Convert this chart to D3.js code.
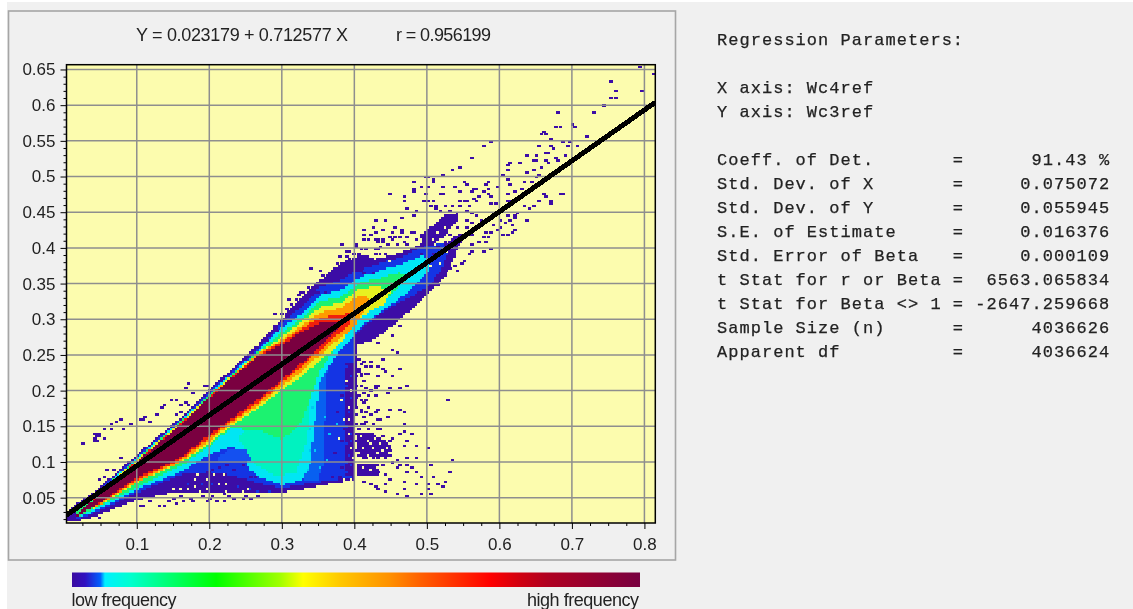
<!DOCTYPE html>
<html>
<head>
<meta charset="utf-8">
<script src="https://cdn.jsdelivr.net/npm/d3@7"></script>
<style>
html, body { margin: 0; padding: 0; background: #fff; overflow: hidden; }
svg { filter: blur(0.4px); }
.tick text { font-family: "Liberation Sans", Arial, sans-serif; font-size: 17px; fill: #222; }
.stat { font-family: "Liberation Mono", monospace; font-size: 17px; letter-spacing: 1.03px; fill: #222; stroke: #222; stroke-width: 0.25px; white-space: pre; }
.lab { font-family: "Liberation Sans", Arial, sans-serif; font-size: 18px; fill: #222; }
</style>
</head>
<body>
<div id="chart"></div>
<script>
var xTicks = [0.1, 0.2, 0.3, 0.4, 0.5, 0.6, 0.7, 0.8];
var xMinor = [0.025, 0.05, 0.075, 0.125, 0.15, 0.175, 0.225, 0.25, 0.275, 0.325, 0.35, 0.375, 0.425, 0.45, 0.475, 0.525, 0.55, 0.575, 0.625, 0.65, 0.675, 0.725, 0.75, 0.775];
var yTicks = [0.05, 0.1, 0.15, 0.2, 0.25, 0.3, 0.35, 0.4, 0.45, 0.5, 0.55, 0.6, 0.65];
var yMinor = [0.02, 0.03, 0.04, 0.06, 0.07, 0.08, 0.09, 0.11, 0.12, 0.13, 0.14, 0.16, 0.17, 0.18, 0.19, 0.21, 0.22, 0.23, 0.24, 0.26, 0.27, 0.28, 0.29, 0.31, 0.32, 0.33, 0.34, 0.36, 0.37, 0.38, 0.39, 0.41, 0.42, 0.43, 0.44, 0.46, 0.47, 0.48, 0.49, 0.51, 0.52, 0.53, 0.54, 0.56, 0.57, 0.58, 0.59, 0.61, 0.62, 0.63, 0.64];

var titleText = "Y = 0.023179 + 0.712577 X";
var rText = "r = 0.956199";
var lineX = [0.0031, 0.815];
var lineY = [0.0254, 0.6039];

var statHead = ["Regression Parameters:", "", "X axis: Wc4ref", "Y axis: Wc3ref", ""];
var statLabels = ["Coeff. of Det.", "Std. Dev. of X", "Std. Dev. of Y", "S.E. of Estimate", "Std. Error of Beta", "t Stat for r or Beta", "t Stat for Beta <> 1", "Sample Size (n)", "Apparent df"];
var statValues = ["91.43 %", "0.075072", "0.055945", "0.016376", "0.000109", "6563.065834", "-2647.259668", "4036626", "4036624"];

// frequency colour ramp
var rampAt = [0, 0.023, 0.05, 0.058, 0.102, 0.254, 0.366, 0.407, 0.472, 0.56, 0.613, 0.736, 0.789, 0.836, 1];
var rampColors = ["#3a0aa0", "#3010c0", "#0060ff", "#00f0ff", "#00ffd0", "#00ff00", "#a0ff00", "#ffff00", "#ffc800", "#ff9000", "#ff6000", "#ff0000", "#d00010", "#b00020", "#780040"];

// density outlines, [x, y] in axis units, outer level first
var purpleTop = [[.004,.029],[.015,.040],[.040,.057],[.100,.110],[.160,.162],[.200,.200],[.229,.229],[.270,.267],[.300,.300],[.325,.330],[.353,.355],[.381,.379],[.399,.386],[.408,.390],[.436,.386],[.463,.393],[.491,.405],[.519,.402],[.546,.420]];
var purpleBottom = [[.004,.016],[.015,.016],[.040,.023],[.100,.047],[.146,.056],[.200,.057],[.270,.056],[.300,.058],[.325,.061],[.353,.067],[.381,.072],[.400,.075],[.404,.264],[.426,.271],[.454,.292],[.501,.334],[.528,.365],[.546,.405]];
var blueTop = [[.015,.038],[.040,.054],[.100,.107],[.160,.159],[.200,.197],[.229,.225],[.270,.261],[.300,.295],[.325,.316],[.353,.345],[.381,.355],[.399,.365],[.408,.369],[.436,.379],[.463,.386],[.491,.400],[.519,.406],[.532,.400]];
var blueBottom = [[.015,.019],[.040,.028],[.100,.057],[.160,.082],[.200,.086],[.229,.082],[.270,.070],[.300,.064],[.325,.068],[.353,.072],[.381,.076],[.397,.079],[.401,.278],[.408,.285],[.436,.309],[.463,.324],[.501,.345],[.519,.369],[.532,.400]];
var skyFan = [[.345,.270],[.365,.250],[.360,.200],[.358,.100],[.350,.075],[.330,.072],[.335,.100],[.340,.200]];
var cyanTop = [[.015,.037],[.040,.052],[.100,.106],[.160,.157],[.200,.195],[.229,.222],[.270,.258],[.300,.288],[.325,.306],[.353,.334],[.381,.341],[.408,.359],[.436,.369],[.463,.376],[.491,.389],[.505,.386]];
var cyanBottom = [[.015,.021],[.040,.030],[.100,.061],[.160,.086],[.200,.110],[.229,.121],[.243,.117],[.256,.089],[.270,.078],[.300,.068],[.329,.075],[.339,.096],[.346,.159],[.353,.215],[.381,.257],[.391,.267],[.408,.288],[.426,.303],[.454,.323],[.477,.341],[.501,.365],[.505,.386]];
var tealFan = [[.240,.135],[.300,.200],[.340,.200],[.335,.130],[.320,.085],[.290,.080],[.260,.100]];
var greenTop = [[.015,.036],[.040,.051],[.100,.104],[.160,.156],[.200,.194],[.229,.220],[.270,.257],[.300,.281],[.325,.299],[.353,.325],[.381,.331],[.408,.351],[.436,.358],[.463,.365],[.477,.362]];
var greenBottom = [[.015,.022],[.040,.033],[.100,.065],[.160,.094],[.200,.122],[.229,.147],[.270,.145],[.300,.131],[.325,.152],[.339,.187],[.353,.229],[.381,.271],[.408,.306],[.426,.316],[.454,.338],[.477,.362]];
var yellowTop = [[.040,.050],[.100,.103],[.160,.155],[.200,.192],[.229,.219],[.270,.255],[.300,.275],[.325,.295],[.353,.317],[.381,.323],[.408,.344],[.436,.345],[.450,.341]];
var yellowBottom = [[.040,.034],[.100,.071],[.160,.099],[.200,.125],[.229,.150],[.270,.177],[.300,.201],[.325,.218],[.353,.242],[.381,.267],[.408,.302],[.429,.316],[.443,.323],[.450,.341]];
var orangeTop = [[.040,.049],[.100,.101],[.160,.153],[.200,.191],[.229,.218],[.270,.254],[.300,.271],[.325,.289],[.353,.310],[.381,.316],[.408,.334],[.422,.330]];
var orangeBottom = [[.040,.035],[.100,.072],[.160,.100],[.200,.129],[.229,.153],[.270,.181],[.300,.206],[.325,.225],[.353,.250],[.381,.275],[.401,.289],[.422,.330]];
var redTop = [[.040,.048],[.100,.101],[.160,.153],[.200,.191],[.229,.217],[.270,.252],[.300,.268],[.325,.285],[.353,.303],[.381,.306],[.394,.310]];
var redBottom = [[.040,.036],[.100,.075],[.160,.103],[.200,.134],[.229,.156],[.270,.185],[.300,.211],[.325,.232],[.353,.257],[.381,.282],[.394,.292]];
var maroonTop = [[.015,.024],[.040,.047],[.100,.100],[.160,.152],[.200,.190],[.229,.216],[.270,.250],[.300,.264],[.325,.281],[.353,.295],[.377,.295]];
var maroonBottom = [[.015,.023],[.040,.037],[.100,.078],[.160,.106],[.200,.138],[.229,.159],[.270,.190],[.300,.215],[.325,.236],[.353,.263],[.377,.286]];

// separate patches of the low frequency colours
var upperPatch = [[.490,.416],[.509,.432],[.523,.446],[.544,.449],[.544,.439],[.523,.416],[.498,.395]];
var lowerPatch = [[.403,.098],[.435,.098],[.435,.079],[.403,.079]];
var midPatch = [[.403,.140],[.425,.140],[.450,.125],[.447,.108],[.403,.108]];
var blueIsland = [[.212,.108],[.230,.118],[.250,.118],[.258,.108],[.258,.100],[.212,.100]];
var rightStrip = [[.388,.240],[.399,.240],[.399,.080],[.388,.080]];

// single cells of the 2d histogram
var sparseCells = [[.659,.563],[.657,.558],[.664,.561],[.670,.554],[.677,.569],[.682,.571],[.699,.574],[.705,.571],[.719,.557],[.687,.551],[.698,.551],[.707,.544],[.693,.544],[.654,.543],[.670,.544],[.638,.529],[.652,.528],[.652,.521],[.664,.534],[.667,.534],[.675,.538],[.689,.530],[.677,.526],[.664,.523],[.668,.519],[.680,.521],[.647,.521],[.647,.509],[.656,.512],[.654,.502],[.638,.505],[.650,.498],[.643,.491],[.634,.493],[.613,.519],[.610,.516],[.612,.509],[.627,.518],[.604,.502],[.611,.496],[.613,.488],[.598,.487],[.576,.544],[.588,.551],[.560,.527],[.544,.512],[.535,.508],[.521,.501],[.497,.498],[.483,.493],[.509,.494],[.553,.490],[.582,.490],[.503,.486],[.481,.480],[.493,.484],[.520,.486],[.521,.477],[.498,.477],[.497,.466],[.469,.472],[.470,.467],[.500,.467],[.505,.460],[.513,.458],[.544,.479],[.560,.479],[.569,.481],[.576,.479],[.585,.481],[.584,.476],[.588,.471],[.572,.471],[.565,.468],[.551,.467],[.535,.460],[.526,.459],[.546,.459],[.559,.459],[.588,.463],[.594,.463],[.611,.474],[.622,.480],[.631,.481],[.615,.467],[.611,.466],[.634,.457],[.640,.456],[.648,.460],[.655,.467],[.670,.467],[.671,.462],[.659,.474],[.665,.472],[.684,.476],[.687,.477],[.636,.439],[.473,.456],[.486,.452],[.480,.446],[.466,.443],
[.620,.446],[.622,.441],[.624,.449],[.611,.444],[.601,.437],[.613,.437],[.618,.432],[.592,.432],[.597,.425],[.588,.423],[.601,.428],[.606,.435],[.611,.420],[.618,.423],[.620,.425],[.604,.418],[.578,.416],[.585,.414],[.572,.409],[.581,.407],[.562,.404],[.558,.390],[.576,.395],[.588,.399],[.562,.395],[.551,.383],[.548,.379],[.537,.374],[.542,.367],[.526,.364],[.530,.371],[.516,.348],[.523,.360],[.514,.360],
[.532,.453],[.555,.453],[.562,.449],[.569,.446],[.555,.439],[.562,.434],[.553,.430],[.574,.439],[.569,.428],[.581,.423],[.542,.430],[.532,.418],[.548,.418],[.560,.418],[.523,.407],[.516,.400],[.509,.392],[.546,.409],[.539,.414],[.491,.392],
[.404,.227],[.420,.224],[.431,.220],[.443,.228],[.452,.220],[.413,.215],[.427,.206],[.429,.203],[.433,.206],[.447,.203],[.461,.203],[.471,.208],[.411,.196],[.406,.192],[.420,.192],[.427,.194],[.445,.196],[.411,.182],[.420,.178],[.417,.171],[.431,.173],[.447,.174],[.463,.174],[.470,.171],[.413,.164],[.417,.157],[.433,.161],[.445,.163],[.408,.154],[.470,.153],[.431,.147],[.436,.145],[.420,.147],[.468,.143],[.479,.140],[.461,.138],[.473,.129],[.468,.121],[.486,.122],[.502,.118],[.452,.133],[.408,.138],[.415,.131],[.429,.129],[.440,.136],[.447,.131],[.431,.119],[.440,.117],[.450,.117],[.417,.119],[.422,.112],[.411,.112],[.436,.110],[.431,.105],[.459,.104],[.473,.105],[.486,.105],[.535,.102],[.408,.096],[.417,.091],[.429,.091],[.438,.096],[.452,.098],[.463,.096],[.473,.097],[.479,.094],[.505,.095],[.408,.084],[.422,.082],[.433,.084],[.443,.082],[.447,.077],[.459,.091],[.473,.084],[.484,.084],[.491,.079],[.509,.078],[.531,.084],[.514,.068],[.521,.065],[.526,.072],[.484,.070],[.502,.068],[.500,.061],[.468,.072],[.468,.061],[.443,.070],[.429,.065],[.413,.072],[.422,.068],[.443,.059],[.457,.055],[.471,.052],[.506,.055],[.490,.055],[.431,.061],[.528,.187],
[.047,.021],[.105,.037],[.109,.040],[.118,.044],[.130,.038],[.137,.040],[.144,.044],[.155,.043],[.164,.044],[.176,.044],[.196,.047],[.210,.044],[.219,.046],[.247,.049],
[.0415,.138],[.0447,.135],[.0415,.133],[.0447,.140],[.0415,.129],[.047,.138],[.044,.131],[.025,.127],[.053,.145],[.056,.145],[.063,.152],[.065,.147],[.072,.157],[.078,.160],[.081,.147],[.092,.154],[.104,.161],[.111,.164],[.107,.159],[.116,.157],[.127,.167],[.134,.175],[.136,.181],[.148,.187],[.155,.187],[.159,.181],[.167,.182],[.171,.181],[.153,.166],[.160,.171],[.168,.203],[.169,.210],[.176,.196],[.192,.206],[.196,.208],[.049,.135],[.056,.133],[.059,.089],[.068,.089],[.049,.075],[.056,.080],[.079,.107],
[.383,.405],[.339,.371],[.353,.367],[.355,.362],[.376,.378],[.378,.388],[.376,.371],[.388,.395],[.325,.336],[.339,.341],[.309,.327],[.314,.320],[.291,.308],[.289,.292],[.293,.285],[.273,.271],[.282,.280],[.413,.420],[.429,.423],[.452,.423],[.463,.416],[.482,.423],[.411,.413],[.427,.411],[.440,.413],[.445,.404],[.459,.406],[.473,.406],[.431,.397],[.443,.390],[.417,.397],[.404,.392],[.392,.395],[.406,.378],[.392,.374],[.411,.364],[.424,.364],[.367,.360],[.381,.364],[.351,.350],[.362,.350],[.348,.339],[.360,.336],[.323,.334],[.330,.325],[.316,.313],[.307,.315],[.298,.299],[.279,.271],[.270,.266],
[.454,.299],[.461,.292],[.450,.290],[.443,.292],[.452,.276],[.429,.280],[.431,.266],[.452,.256],[.459,.255],[.438,.243],[.463,.231],[.422,.241],[.431,.234],[.411,.241],[.417,.224],[.440,.229],
[.794,.653],[.814,.645],[.752,.634],[.759,.621],[.797,.621],[.752,.611],[.760,.609],[.744,.600],[.730,.589],[.681,.589],
[.381,.192],[.388,.182],[.376,.168],[.392,.164],[.385,.147],[.381,.129],[.392,.122],[.374,.112],[.390,.105],[.383,.091],[.369,.080],[.394,.089],[.378,.080],
[.401,.140],[.408,.133],[.417,.136],[.424,.133],[.401,.129],[.406,.124],[.413,.129],[.420,.124],[.427,.119],[.433,.124],[.401,.117],[.408,.117],[.415,.112],[.422,.117],[.429,.115],[.436,.117],[.445,.119],[.447,.110],[.404,.108],[.411,.105],[.417,.105],[.424,.107],[.443,.107],
[.401,.220],[.408,.222],[.401,.208],[.408,.206],[.415,.203],[.422,.201],[.401,.189],[.408,.187],[.415,.185],[.401,.178],[.408,.173],[.401,.166],[.408,.168],[.401,.152],[.406,.147],[.413,.152],[.424,.154],[.422,.166],[.429,.168],[.436,.159],
[.404,.245],[.408,.238],[.415,.234],[.404,.229],[.408,.220],[.422,.234],
[.358,.355],[.369,.369],[.381,.374],[.388,.381],[.399,.383],[.408,.385],[.417,.383],[.429,.390],[.436,.402],[.408,.399],[.401,.406],[.392,.385],[.374,.357],[.344,.346],[.335,.346],[.330,.336],[.318,.327],[.312,.322],[.305,.308],[.298,.308],[.431,.413],[.452,.411],[.466,.423],[.473,.416],[.491,.420],[.500,.423],[.422,.418],[.447,.416],
[.390,.388],[.399,.393],[.408,.383],[.394,.374],[.408,.369],[.422,.379],[.429,.397],[.436,.393],[.413,.425],[.424,.430],[.440,.425],[.427,.439],[.443,.439],[.456,.430],[.466,.425],[.454,.416],[.470,.407],[.486,.411],[.477,.421],[.440,.407],[.431,.407],[.420,.411],[.413,.411],[.401,.402],[.388,.374],[.383,.365],
[.450,.477],[.482,.481],[.496,.467],[.512,.456],[.500,.500],[.509,.493],[.519,.477],[.539,.486],[.551,.491],[.565,.481],[.583,.491],[.583,.477],[.569,.467],[.555,.467],[.546,.465],[.519,.453],[.509,.467],[.468,.465],
[.205,.090],[.215,.092],[.235,.088],[.245,.095],[.225,.095],[.255,.080],[.262,.078],[.250,.072],[.238,.076],[.270,.068],[.280,.066],
[.160,.052],[.175,.050],[.190,.053],[.205,.051],[.220,.054],[.235,.050],[.250,.053],[.265,.052],[.150,.050],[.200,.048],[.228,.051],[.258,.050]];
var cyanCells = [[.346,.117],[.339,.115],[.351,.091],[.344,.178],[.358,.164],[.365,.138],[.362,.103],[.376,.152],[.339,.145],[.337,.089]];
var blueCells = [[.190,.070],[.205,.070],[.170,.068],[.240,.065],[.258,.062],[.268,.060],[.282,.060],
[.390,.235],[.394,.220],[.389,.205],[.396,.190],[.391,.170],[.389,.150],[.395,.140],[.392,.110],[.388,.100],[.394,.095],[.390,.085],[.396,.130],[.389,.125]];
var holeCells = [[.150,.063],[.162,.063],[.171,.063],[.180,.065],[.187,.058],[.183,.082],[.180,.075],[.197,.061],[.215,.068],[.222,.068],[.224,.058],[.206,.082],[.220,.082],[.197,.075],[.252,.063],[.245,.058],
[.381,.187],[.392,.178],[.385,.159],[.391,.138],[.378,.133],[.394,.119],[.385,.075],[.394,.077],[.404,.077],[.431,.093],[.422,.089],[.413,.092],[.514,.423],[.526,.430],[.509,.411],
[.542,.395],[.537,.381],[.519,.379],[.505,.374],[.528,.395],
[.410,.135],[.418,.128],[.428,.134],[.435,.126],[.412,.120],[.425,.118],[.440,.115],[.433,.112],[.407,.112],[.418,.110],[.445,.120],[.422,.126],
[.397,.200],[.393,.160],[.398,.105],[.390,.215],[.440,.390],[.447,.381],[.429,.385]];

var binW = 0.00331, binH = 0.00336;

var width = 1133, height = 609;
var x = d3.scaleLinear().domain([0.0031, 0.815]).range([66.5, 655.3]);
var y = d3.scaleLinear().domain([0.0145, 0.6567]).range([523, 64.7]);

var svg = d3.select("#chart").append("svg")
  .attr("width", width)
  .attr("height", height)
  .style("display", "block");

svg.append("rect").attr("x", 7).attr("y", 2).attr("width", width - 7).attr("height", height - 2).attr("fill", "#f0f0f0");
svg.append("rect").attr("x", 8.5).attr("y", 11).attr("width", 667).attr("height", 549)
  .attr("fill", "#f0f0f0").attr("stroke", "#a6a6a6").attr("stroke-width", 1.6);

// title
svg.append("text").attr("class", "lab").attr("x", 136).attr("y", 41).attr("textLength", 212).text(titleText);
svg.append("text").attr("class", "lab").attr("x", 396).attr("y", 41).attr("textLength", 95).text(rText);

// plot area
var clipId = "plot-clip";
svg.append("clipPath").attr("id", clipId).append("rect")
  .attr("x", x.range()[0]).attr("y", y.range()[1])
  .attr("width", x.range()[1] - x.range()[0]).attr("height", y.range()[0] - y.range()[1]);

svg.append("rect")
  .attr("x", x.range()[0]).attr("y", y.range()[1])
  .attr("width", x.range()[1] - x.range()[0]).attr("height", y.range()[0] - y.range()[1])
  .attr("fill", "#fcfcae");

var plot = svg.append("g").attr("clip-path", "url(#" + clipId + ")");
var outline = d3.line().x(function(d){return x(d[0]);}).y(function(d){return y(d[1]);});

function ring(top, bottom) {
  return top.concat(bottom.slice().reverse());
}

var levels = [
  {pts: ring(purpleTop, purpleBottom), color: "#3c0da6"},
  {pts: upperPatch, color: "#3c0da6"},
  {pts: lowerPatch, color: "#3c0da6"},
  {pts: midPatch, color: "#3c0da6"},
  {pts: ring(blueTop, blueBottom), color: "#1434e4"},
  {pts: rightStrip, color: "#3c0da6"},
  {pts: skyFan, color: "#0860f0"},
  {pts: ring(cyanTop, cyanBottom), color: "#00e6f4"},
  {pts: blueIsland, color: "#1450f0"},
  {pts: tealFan, color: "#00f2c0"},
  {pts: ring(greenTop, greenBottom), color: "#1cf270"},
  {pts: ring(yellowTop, yellowBottom), color: "#e8f020"},
  {pts: ring(orangeTop, orangeBottom), color: "#ff9a00"},
  {pts: ring(redTop, redBottom), color: "#f0200c"},
  {pts: ring(maroonTop, maroonBottom), color: "#7a0040"}
];

// the histogram is blocky: fill its cell grid from the outlines, one run per row
var colCount = Math.ceil(x.domain()[1] / binW);
var rowCount = Math.ceil(y.domain()[1] / binH);
var runs = [];
d3.range(0, rowCount).forEach(function(row){
  var open = null;
  d3.range(0, colCount).forEach(function(col){
    var p = [(col + 0.5) * binW, (row + 0.5) * binH];
    var hit = null;
    for (var i = levels.length - 1; i >= 0; i--) {
      if (d3.polygonContains(levels[i].pts, p)) { hit = levels[i].color; break; }
    }
    if (open && open.color === hit) {
      open.n += 1;
    } else {
      open = hit ? {row: row, col: col, n: 1, color: hit} : null;
      if (open) runs.push(open);
    }
  });
});

plot.selectAll("rect.run")
  .data(runs)
  .enter()
  .append("rect")
  .attr("class", "run")
  .attr("x", function(d){return x(d.col * binW);})
  .attr("y", function(d){return y((d.row + 1) * binH);})
  .attr("width", function(d){return x((d.col + d.n) * binW) - x(d.col * binW);})
  .attr("height", y(0) - y(binH))
  .attr("fill", function(d){return d.color;})
  .attr("shape-rendering", "crispEdges");

function drawCells(cells, color, wide) {
  plot.append("g").selectAll("rect")
    .data(cells)
    .enter()
    .append("rect")
    .attr("x", function(d){return x(Math.floor(d[0] / binW) * binW);})
    .attr("y", function(d){return y((Math.floor(d[1] / binH) + 1) * binH);})
    .attr("width", (x(binW) - x(0)) * wide)
    .attr("height", y(0) - y(binH))
    .attr("fill", color)
    .attr("shape-rendering", "crispEdges");
}
drawCells(sparseCells, "#3c0da6", 1.5);
drawCells(cyanCells, "#00c8f4", 1);
drawCells(blueCells, "#1434e4", 1);
drawCells(holeCells, "#fcfcae", 1);

// grid
var grid = svg.append("g").attr("stroke", "#8e8e8e").attr("stroke-width", 1.5);
grid.selectAll("line.gx").data(xTicks).enter().append("line").attr("class", "gx")
  .attr("x1", function(d){return x(d);}).attr("x2", function(d){return x(d);})
  .attr("y1", y.range()[0]).attr("y2", y.range()[1]);
grid.selectAll("line.gy").data(yTicks).enter().append("line").attr("class", "gy")
  .attr("y1", function(d){return y(d);}).attr("y2", function(d){return y(d);})
  .attr("x1", x.range()[0]).attr("x2", x.range()[1]);

// regression line
svg.append("path")
  .attr("clip-path", "url(#" + clipId + ")")
  .attr("d", outline(lineX.map(function(d, i){return [d, lineY[i]];})))
  .attr("fill", "none")
  .attr("stroke", "#000")
  .attr("stroke-width", 5)
  .attr("shape-rendering", "crispEdges");

// frame and axes
svg.append("rect")
  .attr("x", x.range()[0]).attr("y", y.range()[1])
  .attr("width", x.range()[1] - x.range()[0]).attr("height", y.range()[0] - y.range()[1])
  .attr("fill", "none").attr("stroke", "#000").attr("stroke-width", 1.5);

var xAxis = d3.axisBottom(x).tickValues(xTicks).tickSize(6).tickPadding(9).tickFormat(function(d){return String(d);});
var yAxis = d3.axisLeft(y).tickValues(yTicks).tickSize(6).tickPadding(5).tickFormat(function(d){return String(d);});
var gx = svg.append("g").attr("transform", "translate(0," + y.range()[0] + ")").call(xAxis);
var gy = svg.append("g").attr("transform", "translate(" + x.range()[0] + ",0)").call(yAxis);
gx.select(".domain").remove();
gy.select(".domain").remove();
svg.append("g").attr("transform", "translate(0," + y.range()[0] + ")")
  .call(d3.axisBottom(x).tickValues(xMinor).tickSize(3).tickFormat("")).select(".domain").remove();
svg.append("g").attr("transform", "translate(" + x.range()[0] + ",0)")
  .call(d3.axisLeft(y).tickValues(yMinor).tickSize(3).tickFormat("")).select(".domain").remove();

// colour bar
var defs = svg.append("defs");
var grad = defs.append("linearGradient").attr("id", "ramp");
grad.selectAll("stop").data(rampAt).enter().append("stop")
  .attr("offset", function(d){return d;})
  .attr("stop-color", function(d, i){return rampColors[i];});
svg.append("rect").attr("x", 72).attr("y", 572.5).attr("width", 568).attr("height", 14.5).attr("fill", "url(#ramp)");
svg.append("text").attr("class", "lab").attr("x", 71.5).attr("y", 606).attr("textLength", 105).text("low frequency");
svg.append("text").attr("class", "lab").attr("x", 527).attr("y", 606).attr("textLength", 112).text("high frequency");

// regression parameters
var statLines = statHead.concat(statLabels.map(function(d, i){
  return d.padEnd(21) + "= " + statValues[i].padStart(12);
}));
svg.append("g").selectAll("text")
  .data(statLines)
  .enter()
  .append("text")
  .attr("class", "stat")
  .attr("x", 717)
  .attr("y", function(d, i){return i < 2 ? 44.5 + i * 24 : 92.5 + (i - 2) * 24;})
  .text(function(d){return d;});
</script>
</body>
</html>
